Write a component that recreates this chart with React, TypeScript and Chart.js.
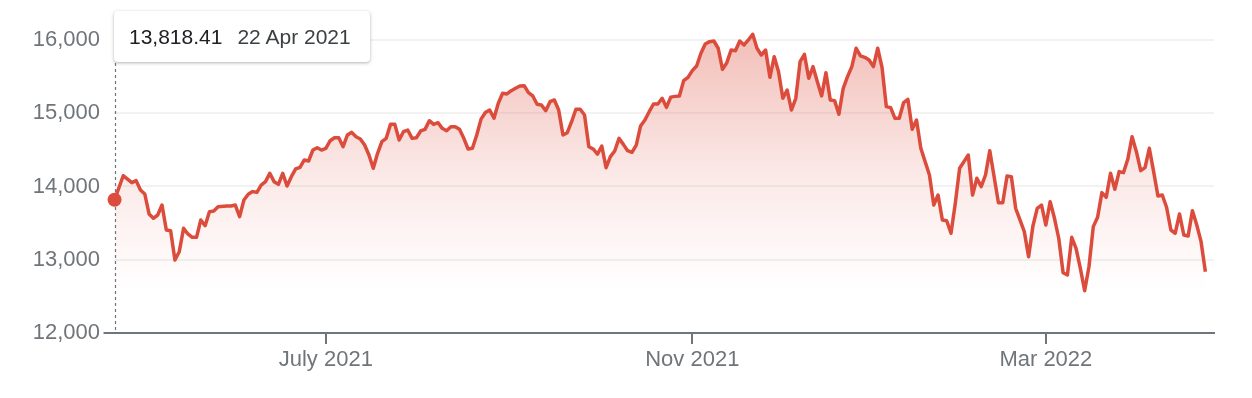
import React, { useEffect, useRef } from "react";
import { Chart, registerables } from "chart.js";

Chart.register(...registerables);

// Trading-day index (0 = 22 Apr 2021, 253 = 22 Apr 2022) of each traced close
const tradingDayIndex = [
  0, 2, 4, 5, 6, 7, 8, 9, 10, 11, 12, 13, 14, 15, 16, 17, 18, 19, 20, 21, 22, 23, 24, 26, 27, 28, 29,
  30, 31, 32, 33, 34, 35, 36, 37, 38, 39, 40, 41, 42, 43, 44, 45, 46, 47, 48, 49, 50, 51, 52, 53, 54,
  55, 56, 57, 58, 59, 60, 61, 62, 63, 64, 65, 66, 67, 68, 69, 70, 71, 72, 73, 74, 75, 76, 77, 78, 79,
  80, 81, 82, 83, 84, 85, 86, 87, 88, 89, 90, 91, 92, 93, 94, 95, 96, 97, 98, 99, 100, 101, 102, 103,
  104, 105, 106, 107, 108, 109, 110, 111, 112, 113, 114, 115, 116, 117, 118, 119, 120, 121, 122, 123,
  124, 125, 126, 127, 128, 129, 130, 131, 132, 133, 134, 135, 136, 137, 138, 139, 140, 141, 142, 143,
  144, 145, 146, 147, 148, 149, 150, 151, 152, 153, 154, 155, 156, 157, 158, 159, 160, 161, 162, 163,
  164, 165, 166, 167, 168, 169, 170, 171, 172, 173, 174, 175, 176, 177, 178, 179, 180, 181, 182, 183,
  184, 185, 186, 187, 188, 189, 190, 191, 192, 193, 194, 195, 196, 197, 198, 199, 200, 201, 202, 203,
  204, 205, 206, 207, 208, 209, 210, 211, 212, 213, 214, 215, 216, 217, 218, 219, 220, 221, 222, 223,
  224, 225, 226, 227, 228, 229, 230, 231, 232, 233, 234, 235, 236, 237, 238, 239, 240, 241, 242, 243,
  244, 245, 246, 247, 248, 249, 250, 251, 252, 253,
];

const closeValues = [
  13818.41, 14147, 14052, 14080, 13952, 13898, 13625, 13566, 13611, 13747, 13406, 13397, 12997, 13110,
  13429, 13352, 13306, 13306, 13543, 13465, 13656, 13666, 13724, 13734, 13734, 13747, 13588,
  13816, 13894, 13930, 13921, 14020, 14066, 14180, 14066, 14030, 14180, 14007, 14134, 14240, 14262,
  14362, 14348, 14498, 14530, 14498, 14521, 14625, 14666, 14666, 14543, 14703,
  14739, 14679, 14648, 14566, 14430, 14248, 14453, 14612, 14657, 14848, 14848, 14635, 14748, 14771,
  14657, 14666, 14758, 14780, 14898, 14848, 14871, 14794, 14762, 14816, 14816,
  14780, 14657, 14512, 14521, 14703, 14920, 15010, 15044, 14931, 15136, 15272, 15263, 15308, 15340,
  15372, 15376, 15281, 15236, 15122, 15113, 15035, 15158, 15181, 15044,
  14703, 14734, 14884, 15054, 15054, 14976, 14543, 14512, 14440, 14553, 14257, 14407, 14485, 14657,
  14575, 14489, 14467, 14566, 14826, 14908,
  15021, 15126, 15126, 15204, 15080, 15220, 15230, 15236, 15445, 15490, 15581, 15645, 15818, 15945,
  15977, 15986, 15887, 15599, 15690, 15863,
  15854, 15986, 15932, 16000, 16078, 15887, 15795, 15863, 15490, 15772, 15567, 15204, 15317, 15044,
  15204, 15704, 15804, 15477, 15636, 15431,
  15236, 15554, 15181, 15172, 14986, 15340, 15499, 15636, 15887, 15782, 15763, 15727, 15636, 15887,
  15627, 15090, 15076, 14931, 14931, 15144,
  15190, 14780, 14908, 14521, 14339, 14157, 13747, 13884, 13543, 13533, 13361, 13770, 14248, 14339,
  14430, 13884, 14112, 13998, 14157, 14489,
  14134, 13779, 13779, 14143, 14134, 13702, 13543, 13384, 13042, 13461, 13702, 13747, 13474, 13793,
  13566, 13290, 12823, 12792, 13306, 13156,
  12883, 12577, 12905, 13452, 13580, 13916, 13852, 14180, 13962, 14203, 14189, 14371, 14680, 14475,
  14216, 14257, 14521, 14203, 13870, 13884,
  13716, 13406, 13361, 13625, 13338, 13324, 13670, 13474, 13247, 12837,
];

// x-axis ticks: first trading day of each labelled month
const xTickIndex = [49, 134, 216];
const xTickLabels = ["July 2021", "Nov 2021", "Mar 2022"];

const yTickValues = [12000, 13000, 14000, 15000, 16000];
const yTickLabels = ["12,000", "13,000", "14,000", "15,000", "16,000"];

const tooltipValue = "13,818.41";
const tooltipDate = "22 Apr 2021";

const RED = "#dc4c3c";
const GRAY = "#70757a";
const FONT = "'Liberation Sans', Arial, Helvetica, sans-serif";

export default function App() {
  const canvasRef = useRef<HTMLCanvasElement | null>(null);

  useEffect(() => {
    const canvas = canvasRef.current;
    if (!canvas) return;

    const points = tradingDayIndex.map((x, i) => ({ x, y: closeValues[i] }));
    const dataMax = Math.max(...closeValues);
    const dataMin = Math.min(...closeValues);

    const guidePlugin = {
      id: "guide",
      beforeDatasetsDraw(chart: any) {
        const { ctx, chartArea, scales } = chart;
        const px = Math.round(scales.x.getPixelForValue(tradingDayIndex[0])) + 0.5;
        ctx.save();
        ctx.strokeStyle = "#70757a";
        ctx.lineWidth = 1.2;
        ctx.setLineDash([3, 3]);
        ctx.beginPath();
        ctx.moveTo(px, 63);
        ctx.lineTo(px, chartArea.bottom);
        ctx.stroke();
        ctx.restore();
      },
    };

    const chart = new Chart(canvas, {
      type: "line",
      data: {
        datasets: [
          {
            data: points,
            borderColor: RED,
            borderWidth: 3.5,
            borderJoinStyle: "round",
            tension: 0,
            clip: false,
            fill: "start",
            backgroundColor: (ctx: any) => {
              const ch = ctx.chart;
              const area = ch.chartArea;
              const ys = ch.scales && ch.scales.y;
              if (!area || !ys) return "rgba(0,0,0,0)";
              const top = ys.getPixelForValue(dataMax);
              const bottom = ys.getPixelForValue(dataMin);
              const g = ch.ctx.createLinearGradient(0, top, 0, bottom);
              g.addColorStop(0, "rgba(220,76,60,0.36)");
              g.addColorStop(0.55, "rgba(220,76,60,0.12)");
              g.addColorStop(1, "rgba(220,76,60,0)");
              return g;
            },
            pointRadius: (ctx: any) => (ctx.dataIndex === 0 ? 7 : 0),
            pointBackgroundColor: RED,
            pointBorderWidth: 0,
            pointHoverRadius: 0,
          },
        ],
      },
      options: {
        responsive: false,
        animation: false,
        events: [],
        layout: { padding: { top: 18, right: 38, bottom: 0, left: 0 } },
        plugins: {
          legend: { display: false },
          tooltip: { enabled: false },
        },
        scales: {
          x: {
            type: "linear",
            min: -0.25,
            max: 255,
            afterBuildTicks: (s: any) => {
              s.ticks = xTickIndex.map((v) => ({ value: v }));
            },
            afterFit: (s: any) => {
              s.height = 65;
            },
            ticks: {
              autoSkip: false,
              maxRotation: 0,
              color: GRAY,
              font: { family: FONT, size: 22 },
              padding: 3,
              callback: (v: any) => {
                const i = xTickIndex.indexOf(Number(v));
                return i >= 0 ? xTickLabels[i] : "";
              },
            },
            grid: {
              display: true,
              drawOnChartArea: false,
              drawTicks: true,
              tickLength: 11,
              color: GRAY,
              lineWidth: 2,
            },
            border: { display: true, color: GRAY, width: 2 },
          },
          y: {
            type: "linear",
            min: 12000,
            max: 16300,
            afterBuildTicks: (s: any) => {
              s.ticks = yTickValues.map((v) => ({ value: v }));
            },
            afterFit: (s: any) => {
              s.width = 113.5;
            },
            ticks: {
              color: GRAY,
              font: { family: FONT, size: 22 },
              padding: 3.5,
              callback: (v: any) => {
                const i = yTickValues.indexOf(Number(v));
                return i >= 0 ? yTickLabels[i] : "";
              },
            },
            grid: {
              drawTicks: true,
              tickLength: 10,
              lineWidth: 2,
              color: (ctx: any) => (ctx.tick && ctx.tick.value === 12000 ? GRAY : "#f2f2f2"),
              tickColor: (ctx: any) =>
                ctx.tick && ctx.tick.value === 12000 ? GRAY : "rgba(0,0,0,0)",
            },
            border: { display: false },
          },
        },
      },
      plugins: [guidePlugin],
    } as any);

    return () => {
      chart.destroy();
    };
  }, []);

  return (
    <div
      style={{
        position: "fixed",
        left: 0,
        top: 0,
        width: 1252,
        height: 398,
        background: "#fff",
      }}
    >
      <canvas ref={canvasRef} width={1252} height={398} style={{ display: "block" }} />
      <div
        style={{
          position: "absolute",
          left: 114,
          top: 11,
          width: 256,
          height: 51,
          background: "#fff",
          borderRadius: 4,
          boxShadow: "0 1px 3px rgba(60,64,67,0.30), 0 1px 4px rgba(60,64,67,0.12)",
          fontFamily: FONT,
          fontSize: 21,
          lineHeight: "51px",
          whiteSpace: "nowrap",
          paddingLeft: 15,
          boxSizing: "border-box",
        }}
      >
        <span style={{ color: "#202124" }}>{tooltipValue}</span>
        <span style={{ color: "#3c4043", marginLeft: 15 }}>{tooltipDate}</span>
      </div>
    </div>
  );
}
